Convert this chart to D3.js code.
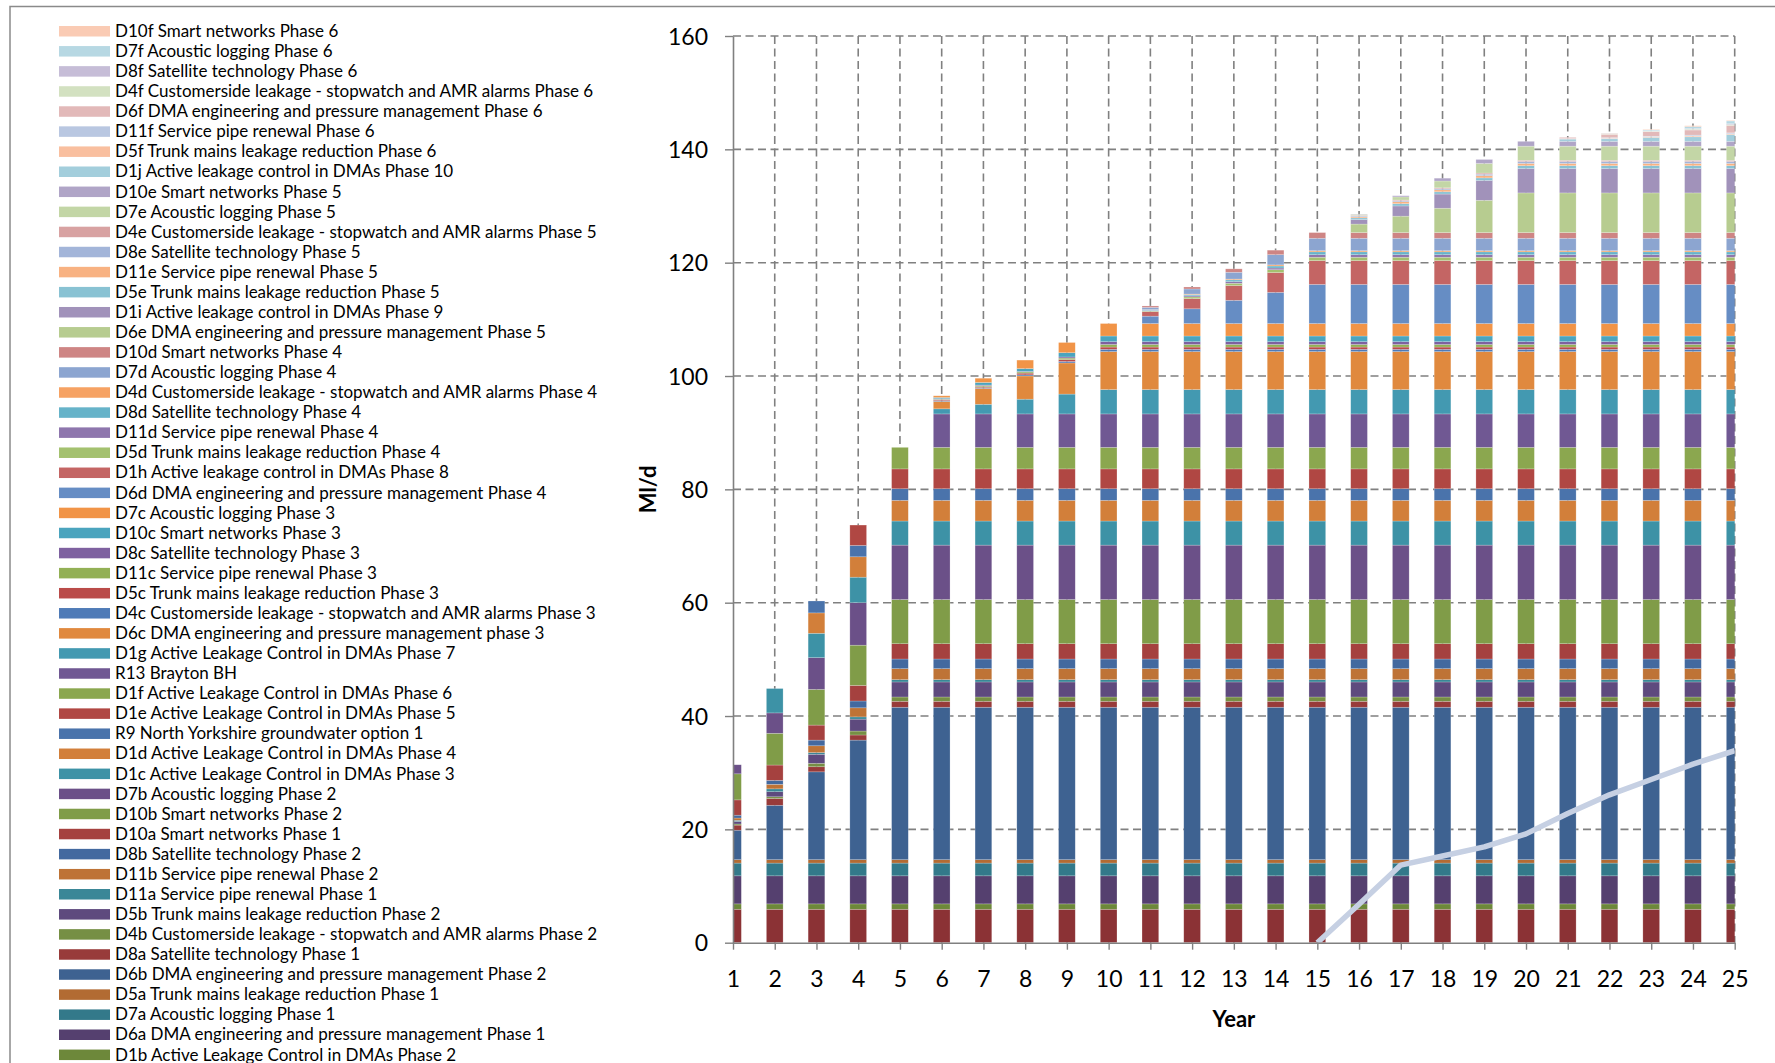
<!DOCTYPE html>
<html>
<head>
<meta charset="utf-8">
<script src="https://cdn.jsdelivr.net/npm/d3@7"></script>
<style>
  html, body { margin: 0; padding: 0; background: #fff; }
  svg { display: block; }
  text { font-family: Lato, "Open Sans", sans-serif; fill: #000; }
</style>
</head>
<body>
<svg id="chart" width="1775" height="1063"></svg>
<script>
// ---- Categories and ticks ----
const years = [1,2,3,4,5, 6,7,8,9,10, 11,12,13,14,15, 16,17,18,19,20, 21,22,23,24,25];
const yTicks = [0,20,40,60,80,100,120,140,160];

// ---- Stacked option yields (Ml/d), bottom of stack first ----
const d1a  = [5.9,5.9,5.9,5.9,5.9, 5.9,5.9,5.9,5.9,5.9, 5.9,5.9,5.9,5.9,5.9, 5.9,5.9,5.9,5.9,5.9, 5.9,5.9,5.9,5.9,5.9];
const d1b  = [0.95,0.95,0.95,0.95,0.95, 0.95,0.95,0.95,0.95,0.95, 0.95,0.95,0.95,0.95,0.95, 0.95,0.95,0.95,0.95,0.95, 0.95,0.95,0.95,0.95,0.95];
const d6a  = [4.95,4.95,4.95,4.95,4.95, 4.95,4.95,4.95,4.95,4.95, 4.95,4.95,4.95,4.95,4.95, 4.95,4.95,4.95,4.95,4.95, 4.95,4.95,4.95,4.95,4.95];
const d7a  = [2.25,2.25,2.25,2.25,2.25, 2.25,2.25,2.25,2.25,2.25, 2.25,2.25,2.25,2.25,2.25, 2.25,2.25,2.25,2.25,2.25, 2.25,2.25,2.25,2.25,2.25];
const d5a  = [0.6,0.6,0.6,0.6,0.6, 0.6,0.6,0.6,0.6,0.6, 0.6,0.6,0.6,0.6,0.6, 0.6,0.6,0.6,0.6,0.6, 0.6,0.6,0.6,0.6,0.6];
const d6b  = [5.2,9.6,15.5,21.1,26.9, 26.9,26.9,26.9,26.9,26.9, 26.9,26.9,26.9,26.9,26.9, 26.9,26.9,26.9,26.9,26.9, 26.9,26.9,26.9,26.9,26.9];
const d8a  = [0.9,1.2,0.9,0.9,1.05, 1.05,1.05,1.05,1.05,1.05, 1.05,1.05,1.05,1.05,1.05, 1.05,1.05,1.05,1.05,1.05, 1.05,1.05,1.05,1.05,1.05];
const d4b  = [0.2,0.3,0.6,0.7,0.76, 0.76,0.76,0.76,0.76,0.76, 0.76,0.76,0.76,0.76,0.76, 0.76,0.76,0.76,0.76,0.76, 0.76,0.76,0.76,0.76,0.76];
const d5b  = [0.45,0.9,1.6,2.1,2.65, 2.65,2.65,2.65,2.65,2.65, 2.65,2.65,2.65,2.65,2.65, 2.65,2.65,2.65,2.65,2.65, 2.65,2.65,2.65,2.65,2.65];
const d11a = [0.2,0.5,0.3,0.4,0.41, 0.41,0.41,0.41,0.41,0.41, 0.41,0.41,0.41,0.41,0.41, 0.41,0.41,0.41,0.41,0.41, 0.41,0.41,0.41,0.41,0.41];
const d11b = [0.4,0.8,1.2,1.6,1.94, 1.94,1.94,1.94,1.94,1.94, 1.94,1.94,1.94,1.94,1.94, 1.94,1.94,1.94,1.94,1.94, 1.94,1.94,1.94,1.94,1.94];
const d8b  = [0.5,0.7,1.0,1.2,1.7, 1.7,1.7,1.7,1.7,1.7, 1.7,1.7,1.7,1.7,1.7, 1.7,1.7,1.7,1.7,1.7, 1.7,1.7,1.7,1.7,1.7];
const d10a = [2.7,2.7,2.65,2.75,2.7, 2.7,2.7,2.7,2.7,2.7, 2.7,2.7,2.7,2.7,2.7, 2.7,2.7,2.7,2.7,2.7, 2.7,2.7,2.7,2.7,2.7];
const d10b = [4.6,5.6,6.3,7.1,7.8, 7.8,7.8,7.8,7.8,7.8, 7.8,7.8,7.8,7.8,7.8, 7.8,7.8,7.8,7.8,7.8, 7.8,7.8,7.8,7.8,7.8];
const d7b  = [1.6,3.6,5.6,7.5,9.6, 9.6,9.6,9.6,9.6,9.6, 9.6,9.6,9.6,9.6,9.6, 9.6,9.6,9.6,9.6,9.6, 9.6,9.6,9.6,9.6,9.6];
const d1c  = [0,4.3,4.3,4.5,4.25, 4.25,4.25,4.25,4.25,4.25, 4.25,4.25,4.25,4.25,4.25, 4.25,4.25,4.25,4.25,4.25, 4.25,4.25,4.25,4.25,4.25];
const d1d  = [0,0,3.6,3.6,3.65, 3.65,3.65,3.65,3.65,3.65, 3.65,3.65,3.65,3.65,3.65, 3.65,3.65,3.65,3.65,3.65, 3.65,3.65,3.65,3.65,3.65];
const r9   = [0,0,2.1,2.0,2.05, 2.05,2.05,2.05,2.05,2.05, 2.05,2.05,2.05,2.05,2.05, 2.05,2.05,2.05,2.05,2.05, 2.05,2.05,2.05,2.05,2.05];
const d1e  = [0,0,0,3.6,3.5, 3.5,3.5,3.5,3.5,3.5, 3.5,3.5,3.5,3.5,3.5, 3.5,3.5,3.5,3.5,3.5, 3.5,3.5,3.5,3.5,3.5];
const d1f  = [0,0,0,0,3.8, 3.8,3.8,3.8,3.8,3.8, 3.8,3.8,3.8,3.8,3.8, 3.8,3.8,3.8,3.8,3.8, 3.8,3.8,3.8,3.8,3.8];
const r13  = [0,0,0,0,0, 5.9,5.9,5.9,5.9,5.9, 5.9,5.9,5.9,5.9,5.9, 5.9,5.9,5.9,5.9,5.9, 5.9,5.9,5.9,5.9,5.9];
const d1g  = [0,0,0,0,0, 0.9,1.7,2.6,3.5,4.3, 4.3,4.3,4.3,4.3,4.3, 4.3,4.3,4.3,4.3,4.3, 4.3,4.3,4.3,4.3,4.3];
const d6c  = [0,0,0,0,0, 1.3,2.8,4.1,5.5,6.7, 6.7,6.7,6.7,6.7,6.7, 6.7,6.7,6.7,6.7,6.7, 6.7,6.7,6.7,6.7,6.7];
const d4c  = [0,0,0,0,0, 0.15,0.15,0.2,0.25,0.4, 0.4,0.4,0.4,0.4,0.4, 0.4,0.4,0.4,0.4,0.4, 0.4,0.4,0.4,0.4,0.4];
const d5c  = [0,0,0,0,0, 0.15,0.15,0.3,0.35,0.4, 0.4,0.4,0.4,0.4,0.4, 0.4,0.4,0.4,0.4,0.4, 0.4,0.4,0.4,0.4,0.4];
const d11c = [0,0,0,0,0, 0.1,0.2,0.2,0.25,0.45, 0.45,0.45,0.45,0.45,0.45, 0.45,0.45,0.45,0.45,0.45, 0.45,0.45,0.45,0.45,0.45];
const d8c  = [0,0,0,0,0, 0.1,0.1,0.1,0.2,0.5, 0.5,0.5,0.5,0.5,0.5, 0.5,0.5,0.5,0.5,0.5, 0.5,0.5,0.5,0.5,0.5];
const d10c = [0,0,0,0,0, 0.2,0.45,0.5,0.75,1.0, 1.0,1.0,1.0,1.0,1.0, 1.0,1.0,1.0,1.0,1.0, 1.0,1.0,1.0,1.0,1.0];
const d7c  = [0,0,0,0,0, 0.3,0.75,1.5,1.8,2.2, 2.2,2.2,2.2,2.2,2.2, 2.2,2.2,2.2,2.2,2.2, 2.2,2.2,2.2,2.2,2.2];
const d6d  = [0,0,0,0,0, 0,0,0,0,0, 1.3,2.6,4.1,5.5,6.9, 6.9,6.9,6.9,6.9,6.9, 6.9,6.9,6.9,6.9,6.9];
const d1h  = [0,0,0,0,0, 0,0,0,0,0, 0.8,1.8,2.6,3.5,4.2, 4.2,4.2,4.2,4.2,4.2, 4.2,4.2,4.2,4.2,4.2];
const d5d  = [0,0,0,0,0, 0,0,0,0,0, 0.1,0.3,0.4,0.5,0.6, 0.6,0.6,0.6,0.6,0.6, 0.6,0.6,0.6,0.6,0.6];
const d11d = [0,0,0,0,0, 0,0,0,0,0, 0.1,0.2,0.3,0.3,0.45, 0.45,0.45,0.45,0.45,0.45, 0.45,0.45,0.45,0.45,0.45];
const d8d  = [0,0,0,0,0, 0,0,0,0,0, 0.1,0.2,0.3,0.35,0.5, 0.5,0.5,0.5,0.5,0.5, 0.5,0.5,0.5,0.5,0.5];
const d4d  = [0,0,0,0,0, 0,0,0,0,0, 0.05,0.1,0.15,0.2,0.2, 0.2,0.2,0.2,0.2,0.2, 0.2,0.2,0.2,0.2,0.2];
const d7d  = [0,0,0,0,0, 0,0,0,0,0, 0.4,0.9,1.2,1.8,2.2, 2.2,2.2,2.2,2.2,2.2, 2.2,2.2,2.2,2.2,2.2];
const d10d = [0,0,0,0,0, 0,0,0,0,0, 0.25,0.35,0.6,0.8,1.0, 1.0,1.0,1.0,1.0,1.0, 1.0,1.0,1.0,1.0,1.0];
const d6e  = [0,0,0,0,0, 0,0,0,0,0, 0,0,0,0,0, 1.5,2.9,4.3,5.7,7.0, 7.0,7.0,7.0,7.0,7.0];
const d1i  = [0,0,0,0,0, 0,0,0,0,0, 0,0,0,0,0, 0.8,1.8,2.5,3.5,4.3, 4.3,4.3,4.3,4.3,4.3];
const d5e  = [0,0,0,0,0, 0,0,0,0,0, 0,0,0,0,0, 0.3,0.4,0.4,0.45,0.5, 0.5,0.5,0.5,0.5,0.5];
const d11e = [0,0,0,0,0, 0,0,0,0,0, 0,0,0,0,0, 0.2,0.35,0.35,0.4,0.4, 0.4,0.4,0.4,0.4,0.4];
const d8e  = [0,0,0,0,0, 0,0,0,0,0, 0,0,0,0,0, 0.15,0.2,0.2,0.25,0.35, 0.35,0.35,0.35,0.35,0.35];
const d4e  = [0,0,0,0,0, 0,0,0,0,0, 0,0,0,0,0, 0.1,0.1,0.15,0.2,0.2, 0.2,0.2,0.2,0.2,0.2];
const d7e  = [0,0,0,0,0, 0,0,0,0,0, 0,0,0,0,0, 0.15,0.55,1.2,1.7,2.5, 2.5,2.5,2.5,2.5,2.5];
const d10e = [0,0,0,0,0, 0,0,0,0,0, 0,0,0,0,0, 0.05,0.2,0.5,0.7,0.85, 0.85,0.85,0.85,0.85,0.85];
const d1j  = [0,0,0,0,0, 0,0,0,0,0, 0,0,0,0,0, 0,0,0,0,0, 0.4,0.45,0.7,0.8,1.2];
const d5f  = [0,0,0,0,0, 0,0,0,0,0, 0,0,0,0,0, 0,0,0,0,0, 0.05,0.1,0.1,0.15,0.15];
const d11f = [0,0,0,0,0, 0,0,0,0,0, 0,0,0,0,0, 0,0,0,0,0, 0.05,0.1,0.1,0.15,0.15];
const d6f  = [0,0,0,0,0, 0,0,0,0,0, 0,0,0,0,0, 0,0,0,0,0, 0.2,0.6,0.8,0.9,1.3];
const d4f  = [0,0,0,0,0, 0,0,0,0,0, 0,0,0,0,0, 0,0,0,0,0, 0,0.05,0.1,0.15,0.15];
const d8f  = [0,0,0,0,0, 0,0,0,0,0, 0,0,0,0,0, 0,0,0,0,0, 0,0.05,0.05,0.1,0.15];
const d7f  = [0,0,0,0,0, 0,0,0,0,0, 0,0,0,0,0, 0,0,0,0,0, 0,0.05,0.15,0.35,0.5];
const d10f = [0,0,0,0,0, 0,0,0,0,0, 0,0,0,0,0, 0,0,0,0,0, 0,0.05,0.1,0.15,0.1];

// Line series (Ml/d); no value before year 15
const lineValues = [null,null,null,null,null, null,null,null,null,null, null,null,null,null,0, 6.8,13.7,15.3,16.9,19.2, 22.8,26.1,28.8,31.5,33.9];

// Stack order (bottom first), labels and fills
const seriesValues = [d1a,d1b,d6a,d7a,d5a,d6b,d8a,d4b,d5b,d11a,d11b,d8b,d10a,d10b,d7b,d1c,d1d,r9,d1e,d1f,r13,d1g,d6c,d4c,d5c,d11c,d8c,d10c,d7c,d6d,d1h,d5d,d11d,d8d,d4d,d7d,d10d,d6e,d1i,d5e,d11e,d8e,d4e,d7e,d10e,d1j,d5f,d11f,d6f,d4f,d8f,d7f,d10f];
const seriesNames = [
  "D1a Active Leakage Control in DMAs Phase 1",
  "D1b Active Leakage Control in DMAs Phase 2",
  "D6a DMA engineering and pressure management Phase 1",
  "D7a Acoustic logging Phase 1",
  "D5a Trunk mains leakage reduction Phase 1",
  "D6b DMA engineering and pressure management Phase 2",
  "D8a Satellite technology Phase 1",
  "D4b Customerside leakage - stopwatch and AMR alarms Phase 2",
  "D5b Trunk mains leakage reduction Phase 2",
  "D11a Service pipe renewal Phase 1",
  "D11b Service pipe renewal Phase 2",
  "D8b Satellite technology Phase 2",
  "D10a Smart networks Phase 1",
  "D10b Smart networks Phase 2",
  "D7b Acoustic logging Phase 2",
  "D1c Active Leakage Control in DMAs Phase 3",
  "D1d Active Leakage Control in DMAs Phase 4",
  "R9 North Yorkshire groundwater option 1",
  "D1e Active Leakage Control in DMAs Phase 5",
  "D1f Active Leakage Control in DMAs Phase 6",
  "R13 Brayton BH",
  "D1g Active Leakage Control in DMAs Phase 7",
  "D6c DMA engineering and pressure management phase 3",
  "D4c Customerside leakage - stopwatch and AMR alarms Phase 3",
  "D5c Trunk mains leakage reduction Phase 3",
  "D11c Service pipe renewal Phase 3",
  "D8c Satellite technology Phase 3",
  "D10c Smart networks Phase 3",
  "D7c Acoustic logging Phase 3",
  "D6d DMA engineering and pressure management Phase 4",
  "D1h Active leakage control in DMAs Phase 8",
  "D5d Trunk mains leakage reduction Phase 4",
  "D11d Service pipe renewal Phase 4",
  "D8d Satellite technology Phase 4",
  "D4d Customerside leakage - stopwatch and AMR alarms Phase 4",
  "D7d Acoustic logging Phase 4",
  "D10d Smart networks Phase 4",
  "D6e DMA engineering and pressure management Phase 5",
  "D1i Active leakage control in DMAs Phase 9",
  "D5e Trunk mains leakage reduction Phase 5",
  "D11e Service pipe renewal Phase 5",
  "D8e Satellite technology Phase 5",
  "D4e Customerside leakage - stopwatch and AMR alarms Phase 5",
  "D7e Acoustic logging Phase 5",
  "D10e Smart networks Phase 5",
  "D1j Active leakage control in DMAs Phase 10",
  "D5f Trunk mains leakage reduction Phase 6",
  "D11f Service pipe renewal Phase 6",
  "D6f DMA engineering and pressure management Phase 6",
  "D4f Customerside leakage - stopwatch and AMR alarms Phase 6",
  "D8f Satellite technology Phase 6",
  "D7f Acoustic logging Phase 6",
  "D10f Smart networks Phase 6"
];
const seriesColors = [
  "#8B3235","#6D883A","#55406F","#33798A","#B26B33","#3E6291","#983B3A","#768F44",
  "#5E4A7E","#3A8797","#BE7336","#43699F","#A5413F","#809C48","#6B5088","#3D92A6",
  "#D27F3A","#4A73AB","#B04743","#8BA74F","#705893","#4399B1","#E0893E","#4F7BB7",
  "#BA4B49","#93B055","#7E61A0","#4BA4BE","#F19447","#668DC4","#C46564","#A4C16F",
  "#8E76AD","#66B3C9","#F6A263","#8CA5D0","#CE8584","#B7CC90","#A192BA","#89C2D3",
  "#F8B282","#A3B5D9","#D8A2A2","#C3D6A6","#B0A5C7","#A3CEDC","#F9BF9F","#B9C7E1",
  "#E2B9B9","#D3E1C1","#C6BDD7","#B7D8E3","#FACBB4"
];

// ---- Layout ----
const W = 1775, H = 1063;
const svg = d3.select("#chart");
const plot = { left: 733, right: 1734.7, top: 36, bottom: 942.7 };
const gridColor = "#808080";

const x = d3.scaleLinear().domain([years[0], years[years.length - 1]]).range([plot.left, plot.right]);
const y = d3.scaleLinear().domain([0, 160]).range([plot.bottom, plot.top]);
const step = x(2) - x(1);
const barW = step * 0.4;

// Outer chart frame (runs past the right and bottom edges)
svg.append("path")
  .attr("d", `M10,${H + 20} L10,6.5 L${W + 20},6.5`)
  .attr("fill", "none").attr("stroke", "#8a8a8a").attr("stroke-width", 1.5);

// Clip so the first and last bars sit half outside the plot
svg.append("defs").append("clipPath").attr("id", "plotClip")
  .append("rect")
  .attr("x", plot.left).attr("y", plot.top - 5)
  .attr("width", plot.right - plot.left).attr("height", plot.bottom - plot.top + 5);

// Dashed gridlines
const grid = svg.append("g").attr("stroke", gridColor).attr("stroke-width", 1.6)
  .attr("stroke-dasharray", "8,4.5").attr("fill", "none");
grid.selectAll("line.h").data(yTicks.filter(d => d > 0)).join("line")
  .attr("class", "h")
  .attr("x1", plot.left).attr("x2", plot.right)
  .attr("y1", d => y(d)).attr("y2", d => y(d));
grid.selectAll("line.v").data(years.slice(1)).join("line")
  .attr("class", "v")
  .attr("x1", d => x(d)).attr("x2", d => x(d))
  .attr("y1", y(160)).attr("y2", y(0));

// Stacked bars
const table = years.map((yr, i) => {
  const row = { year: yr };
  seriesNames.forEach((name, k) => { row[name] = seriesValues[k][i]; });
  return row;
});
const stacked = d3.stack().keys(seriesNames)(table);
const color = d3.scaleOrdinal().domain(seriesNames).range(seriesColors);

const bars = svg.append("g").attr("clip-path", "url(#plotClip)");
bars.selectAll("g.series").data(stacked).join("g")
  .attr("class", "series")
  .attr("fill", d => color(d.key))
  .selectAll("rect").data(d => d.filter(p => p[1] - p[0] > 0)).join("rect")
  .attr("x", p => x(p.data.year) - barW / 2)
  .attr("width", barW)
  .attr("y", p => y(p[1]))
  .attr("height", p => y(p[0]) - y(p[1]))
  .attr("stroke", "rgba(255,255,255,0.35)")
  .attr("stroke-width", 0.6);

// Line series
const lineGen = d3.line()
  .defined(d => d.v !== null)
  .x(d => x(d.year))
  .y(d => y(d.v));
svg.append("path")
  .datum(years.map((yr, i) => ({ year: yr, v: lineValues[i] })))
  .attr("d", lineGen)
  .attr("fill", "none")
  .attr("stroke", "#C6D0E3")
  .attr("stroke-width", 5.5)
  .attr("stroke-linejoin", "round")
  .attr("clip-path", "url(#plotClip)");

// Axes
const yAxis = svg.append("g")
  .attr("transform", `translate(${plot.left},0)`)
  .call(d3.axisLeft(y).tickValues(yTicks).tickSize(8).tickSizeOuter(0).tickPadding(17));
yAxis.select(".domain").attr("stroke", gridColor).attr("stroke-width", 1.6);
yAxis.selectAll(".tick line").attr("stroke", gridColor).attr("stroke-width", 1.4);
yAxis.selectAll(".tick text").attr("font-size", 23).attr("font-family", "Lato, 'Open Sans', sans-serif")
  .attr("fill", "#000").attr("dy", "0.36em");

const xAxis = svg.append("g")
  .attr("transform", `translate(0,${plot.bottom})`)
  .call(d3.axisBottom(x).tickValues(years).tickFormat(d3.format("d")).tickSize(7).tickSizeOuter(0));
xAxis.select(".domain").attr("stroke", gridColor).attr("stroke-width", 1.6);
xAxis.selectAll(".tick line").attr("stroke", gridColor).attr("stroke-width", 1.4);
xAxis.selectAll(".tick text").attr("font-size", 23).attr("font-family", "Lato, 'Open Sans', sans-serif")
  .attr("fill", "#000").attr("y", 44.5).attr("dy", null);

// Axis titles
svg.append("text")
  .attr("x", (plot.left + plot.right) / 2).attr("y", 1027)
  .attr("text-anchor", "middle").attr("font-size", 22).attr("font-weight", "bold")
  .text("Year");
svg.append("text")
  .attr("transform", `translate(656,${(plot.top + plot.bottom) / 2}) rotate(-90)`)
  .attr("text-anchor", "middle").attr("font-size", 22).attr("font-weight", "bold")
  .text("Ml/d");

// Legend: top of stack listed first; only the rows that fit in the frame are drawn
const rowH = 20.07, row0 = 31;
const legendItems = seriesNames.map((n, k) => ({ name: n, color: seriesColors[k] }))
  .reverse()
  .filter((d, i) => row0 + i * rowH + 6 < H);
const legend = svg.append("g");
const li = legend.selectAll("g").data(legendItems).join("g")
  .attr("transform", (d, i) => `translate(0,${row0 + i * rowH})`);
li.append("rect").attr("x", 59).attr("y", -5).attr("width", 51).attr("height", 10.5)
  .attr("fill", d => d.color);
li.append("text").attr("x", 115).attr("dy", "0.35em").attr("font-size", 17)
  .text(d => d.name);
</script>
</body>
</html>
